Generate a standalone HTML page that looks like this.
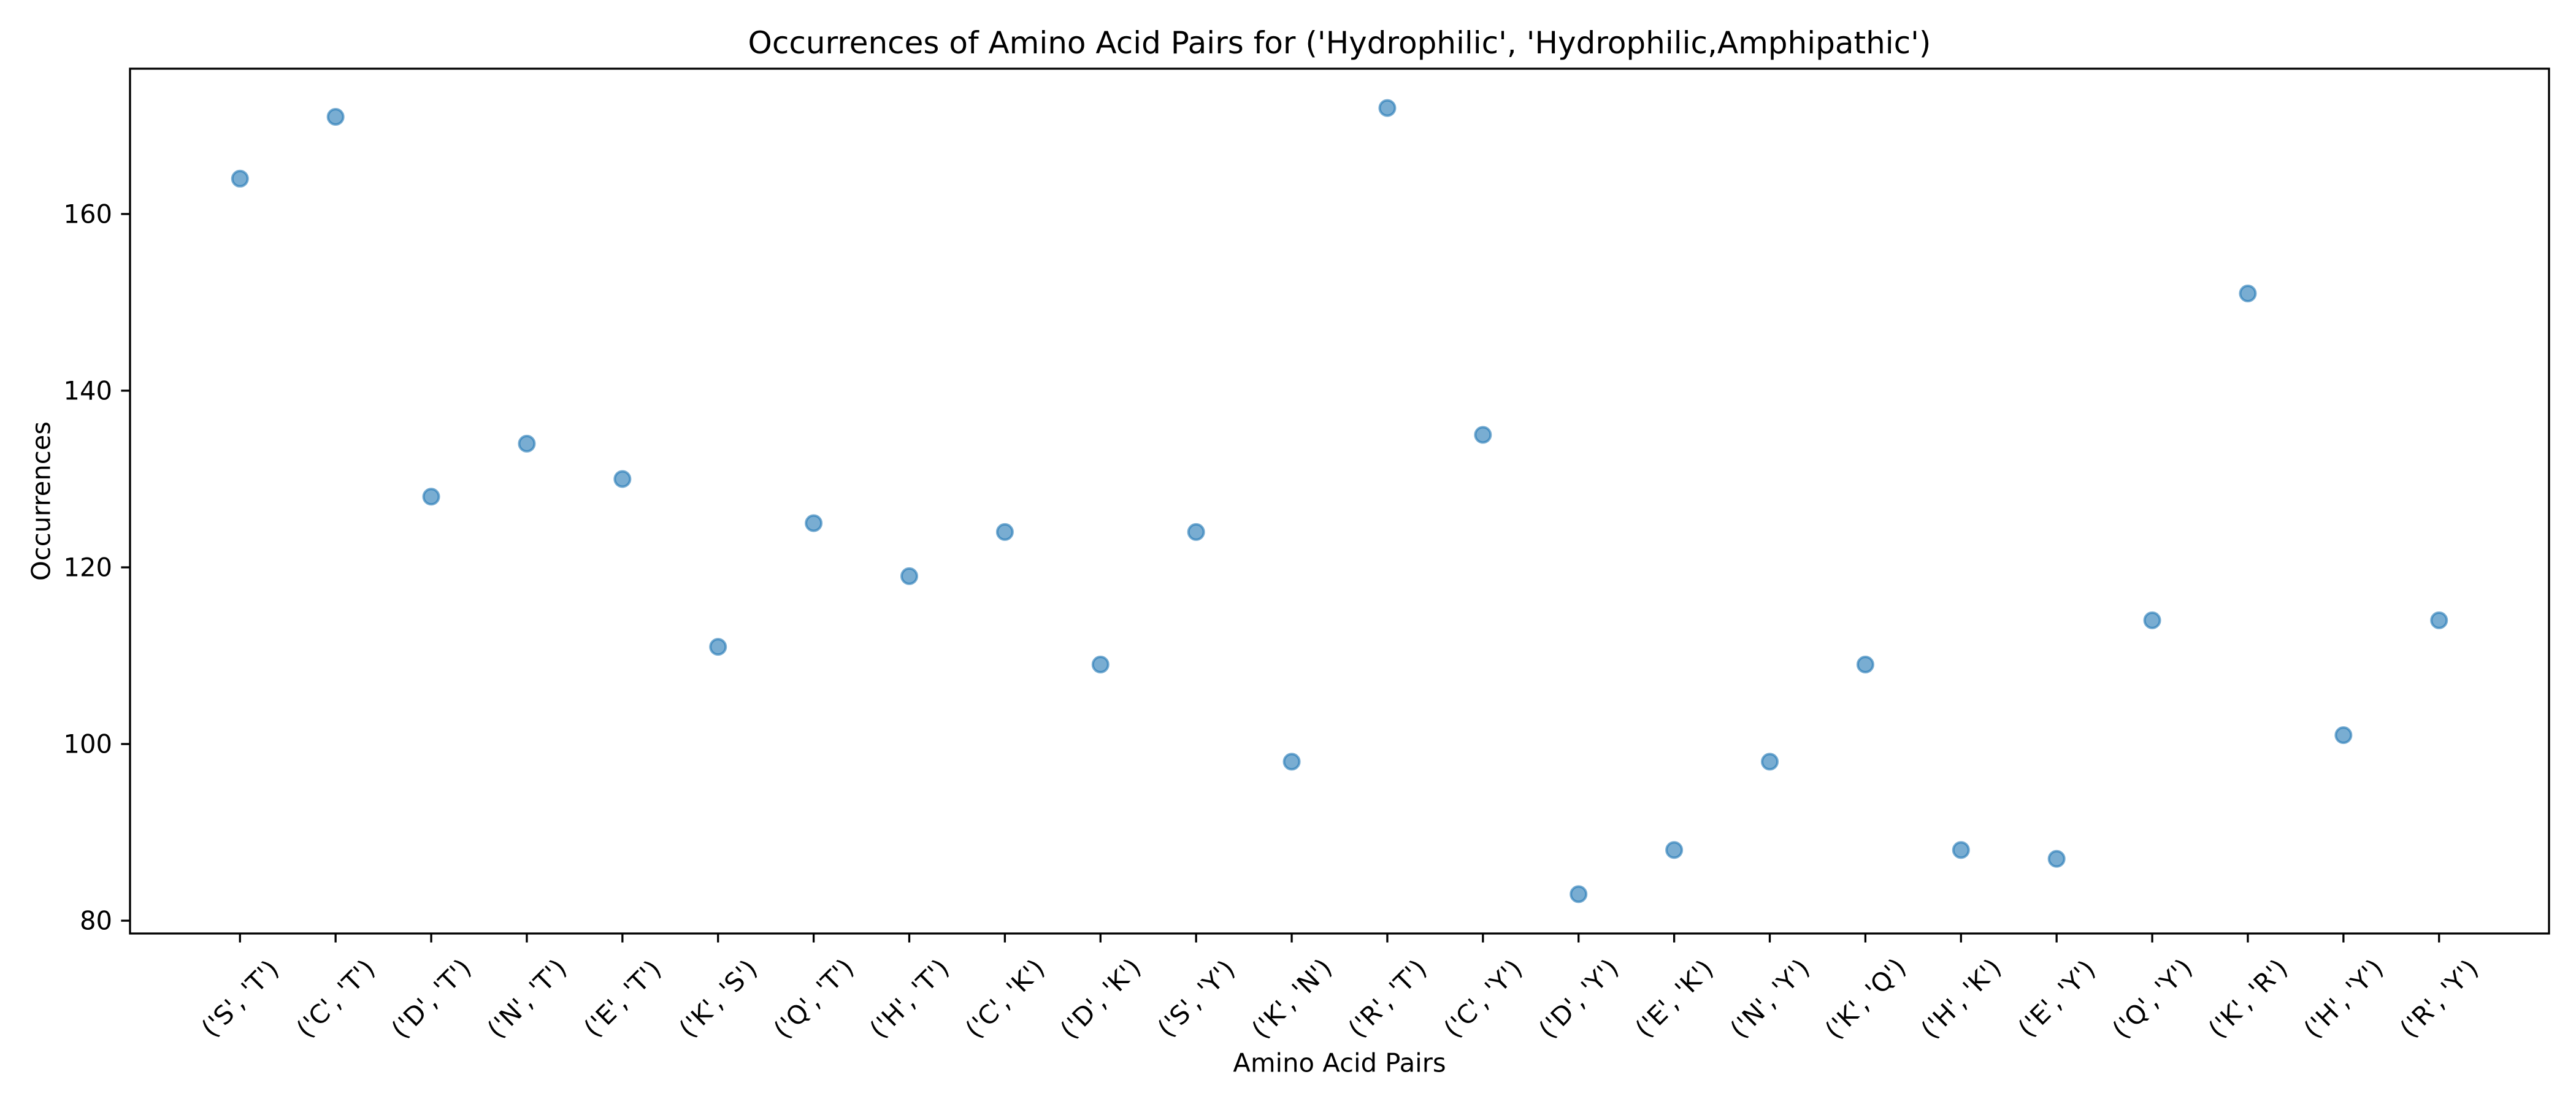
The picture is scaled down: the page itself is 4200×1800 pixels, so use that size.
<!DOCTYPE html>
<html><head><meta charset="utf-8"><style>html,body{margin:0;padding:0;background:#fff}svg{display:block}text{font-family:"DejaVu Sans","Liberation Sans",sans-serif;fill:#000}</style></head>
<body>
<svg id="chart" width="4200" height="1800" viewBox="0 0 4200 1800" xmlns="http://www.w3.org/2000/svg">
<rect width="4200" height="1800" fill="#fff"/>
<text x="2184" y="70" font-size="50" text-anchor="middle" dominant-baseline="central">Occurrences of Amino Acid Pairs for ('Hydrophilic', 'Hydrophilic,Amphipathic')</text>
<text x="2184" y="1733" font-size="41.7" text-anchor="middle" dominant-baseline="central">Amino Acid Pairs</text>
<text x="0" y="0" font-size="41.7" text-anchor="middle" dominant-baseline="central" transform="translate(67,817) rotate(-90)">Occurrences</text>
<g id="marks"></g>
<g id="axes"></g>
</svg>
<script>
const categories = ["('S', 'T')","('C', 'T')","('D', 'T')","('N', 'T')","('E', 'T')","('K', 'S')","('Q', 'T')","('H', 'T')","('C', 'K')","('D', 'K')","('S', 'Y')","('K', 'N')","('R', 'T')","('C', 'Y')","('D', 'Y')","('E', 'K')","('N', 'Y')","('K', 'Q')","('H', 'K')","('E', 'Y')","('Q', 'Y')","('K', 'R')","('H', 'Y')","('R', 'Y')"];
const occurrences = [164,171,128,134,130,111,125,119,124,109,124,98,172,135,83,88,98,109,88,87,114,151,101,114];
const yTicks = [80,100,120,140,160];

const NS = "http://www.w3.org/2000/svg";
const L = 212, R = 4156, T = 112, B = 1522;
const n = categories.length;
const xMin = -0.05*(n-1), xMax = (n-1)*1.05;
const dMin = Math.min(...occurrences), dMax = Math.max(...occurrences);
const pad = (dMax - dMin)*0.05;
const yMin = dMin - pad, yMax = dMax + pad;
function xScale(i){ return L + (i - xMin)/(xMax - xMin)*(R - L); }
function yScale(v){ return B - (v - yMin)/(yMax - yMin)*(B - T); }
function mk(tag, attrs, parent){ const e = document.createElementNS(NS, tag); for (const k in attrs) e.setAttribute(k, attrs[k]); parent.appendChild(e); return e; }

const marks = document.getElementById('marks');
occurrences.forEach((v, i) => {
  const c = mk('circle', {cx: xScale(i), cy: yScale(v), r: 12.5, fill: '#1f77b4', 'fill-opacity': 0.6, stroke: '#1f77b4', 'stroke-opacity': 0.6, 'stroke-width': 4}, marks);
  
  
});

const axes = document.getElementById('axes');
const frame = mk('rect', {x: L, y: T, width: R - L, height: B - T, fill: 'none', stroke: '#000', 'stroke-width': 3.3}, axes);



yTicks.forEach(v => {
  const y = yScale(v);
  const t = mk('line', {x1: L - 14.6, x2: L, y1: y, y2: y, stroke: '#000', 'stroke-width': 3.3}, axes);
  
  
  const lb = mk('text', {x: L - 29, y: y, 'font-size': 41.7, 'text-anchor': 'end', 'dominant-baseline': 'central'}, axes);
  lb.textContent = v;
  
  
});

categories.forEach((c, i) => {
  const x = xScale(i);
  const t = mk('line', {x1: x, x2: x, y1: B, y2: B + 14.6, stroke: '#000', 'stroke-width': 3.3}, axes);
  
  
  const cy = B + 106;
  const lb = mk('text', {x: 0, y: 0, 'font-size': 41.7, 'text-anchor': 'middle', 'dominant-baseline': 'central', transform: 'translate(' + x + ',' + cy + ') rotate(-45)'}, axes);
  lb.textContent = c;
  
  
});
</script>
</body></html>
